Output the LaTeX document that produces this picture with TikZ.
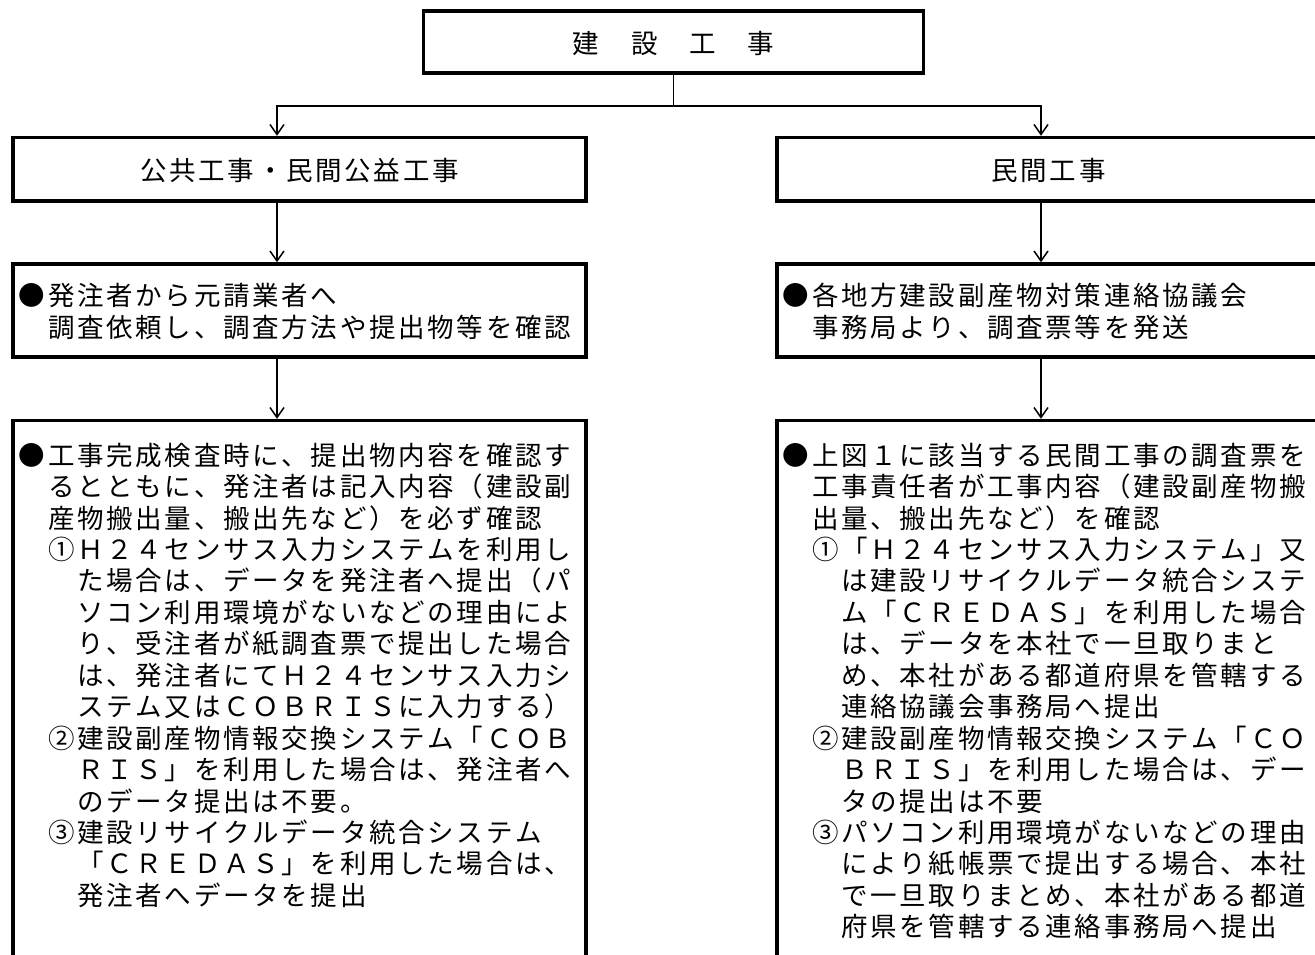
\documentclass[tikz,border=0pt]{standalone}
\usepackage{fontspec}
\newfontfamily\jp{Noto Sans CJK JP}
\usetikzlibrary{arrows.meta}
\newlength\pitch
\setlength\pitch{29.2pt}
\makeatletter
\def\fw@end{fw@end@marker}
\def\fw#1{\fw@#1\fw@end}
\def\fw@#1{\ifx#1\fw@end\else\makebox[\pitch][c]{#1}\expandafter\fw@\fi}
\makeatother
\tikzset{
  box/.style={draw, line width=3.4pt, inner sep=0pt},
  conn/.style={line width=1.5pt},
  arr/.style={conn, -{Straight Barb[length=10pt,width=14pt]}},
  txt/.style={inner sep=0pt, outer sep=0pt, font=\jp\fontsize{26.5pt}{31.45pt}\selectfont},
}
\begin{document}
\begin{tikzpicture}[x=1pt,y=-1pt]
\useasboundingbox (0,0) rectangle (1315,955);
\clip (0,0) rectangle (1315,955);
\fill[white] (0,0) rectangle (1315,955);
% boxes
\node[box, minimum width=499.8pt, minimum height=62pt] (top) at (673.6,42) {};
\node[box, minimum width=573pt, minimum height=63.5pt] (l2) at (299.5,169.25) {};
\node[box, minimum width=543pt, minimum height=63.5pt] (r2) at (1048.5,169.25) {};
\node[box, minimum width=573pt, minimum height=93pt] (l3) at (299.5,310.5) {};
\node[box, minimum width=543pt, minimum height=93pt] (r3) at (1048.5,310.5) {};
\node[box, minimum width=573pt, minimum height=569.5pt] (l4) at (299.5,705.25) {};
\node[box, minimum width=543pt, minimum height=569.5pt] (r4) at (1048.5,705.25) {};
% helper coordinates
\coordinate (LA) at (277,0);
\coordinate (RA) at (1041,0);
\coordinate (hy) at (0,106);
% connectors
\draw[conn] (top.south) -- (top.south |- hy);
\draw[arr] (top.south |- hy) -| (l2.north -| LA);
\draw[arr] (top.south |- hy) -| (r2.north -| RA);
\draw[arr] (l2.south -| LA) -- (l3.north -| LA);
\draw[arr] (r2.south -| RA) -- (r3.north -| RA);
\draw[arr] (l3.south -| LA) -- (l4.north -| LA);
\draw[arr] (r3.south -| RA) -- (r4.north -| RA);
% centered titles
\node[txt, anchor=base] (ttop) at (673.6,53.1) {\fw{建　設　工　事}};
\node[txt, anchor=base] (tl2) at (299.5,180.1) {\fw{公共工事・民間公益工事}};
\node[txt, anchor=base] (tr2) at (1048.5,180.1) {\fw{民間工事}};
% box 3 texts
\foreach \ind/\t [count=\i] in {0/●発注者から元請業者へ,1/調査依頼し、調査方法や提出物等を確認}
  \node[txt, anchor=base west] (lb\i) at ({17.5+\ind*29.2},{295.5+(\i-1)*31.5+10.1}) {\expandafter\fw\expandafter{\t}};
\foreach \ind/\t [count=\i] in {0/●各地方建設副産物対策連絡協議会,1/事務局より、調査票等を発送}
  \node[txt, anchor=base west] (rb\i) at ({781.5+\ind*29.2},{295.5+(\i-1)*31.5+10.1}) {\expandafter\fw\expandafter{\t}};
% box 4 texts
\foreach \ind/\t [count=\i] in {
  0/●工事完成検査時に、提出物内容を確認す,
  1/るとともに、発注者は記入内容（建設副,
  1/産物搬出量、搬出先など）を必ず確認,
  1/①Ｈ２４センサス入力システムを利用し,
  2/た場合は、データを発注者へ提出（パ,
  2/ソコン利用環境がないなどの理由によ,
  2/り、受注者が紙調査票で提出した場合,
  2/は、発注者にてＨ２４センサス入力シ,
  2/ステム又はＣＯＢＲＩＳに入力する）,
  1/②建設副産物情報交換システム「ＣＯＢ,
  2/ＲＩＳ」を利用した場合は、発注者へ,
  2/のデータ提出は不要。,
  1/③建設リサイクルデータ統合システム,
  2/「ＣＲＥＤＡＳ」を利用した場合は、,
  2/発注者へデータを提出}
  \node[txt, anchor=base west] (lc\i) at ({17.5+\ind*29.2},{455+(\i-1)*31.45+10.1}) {\expandafter\fw\expandafter{\t}};
\foreach \ind/\t [count=\i] in {
  0/●上図１に該当する民間工事の調査票を,
  1/工事責任者が工事内容（建設副産物搬,
  1/出量、搬出先など）を確認,
  1/①「Ｈ２４センサス入力システム」又,
  2/は建設リサイクルデータ統合システ,
  2/ム「ＣＲＥＤＡＳ」を利用した場合,
  2/は、データを本社で一旦取りまと,
  2/め、本社がある都道府県を管轄する,
  2/連絡協議会事務局へ提出,
  1/②建設副産物情報交換システム「ＣＯ,
  2/ＢＲＩＳ」を利用した場合は、デー,
  2/タの提出は不要,
  1/③パソコン利用環境がないなどの理由,
  2/により紙帳票で提出する場合、本社,
  2/で一旦取りまとめ、本社がある都道,
  2/府県を管轄する連絡事務局へ提出}
  \node[txt, anchor=base west] (rc\i) at ({781.5+\ind*29.2},{455+(\i-1)*31.45+10.1}) {\expandafter\fw\expandafter{\t}};
\end{tikzpicture}
\end{document}
